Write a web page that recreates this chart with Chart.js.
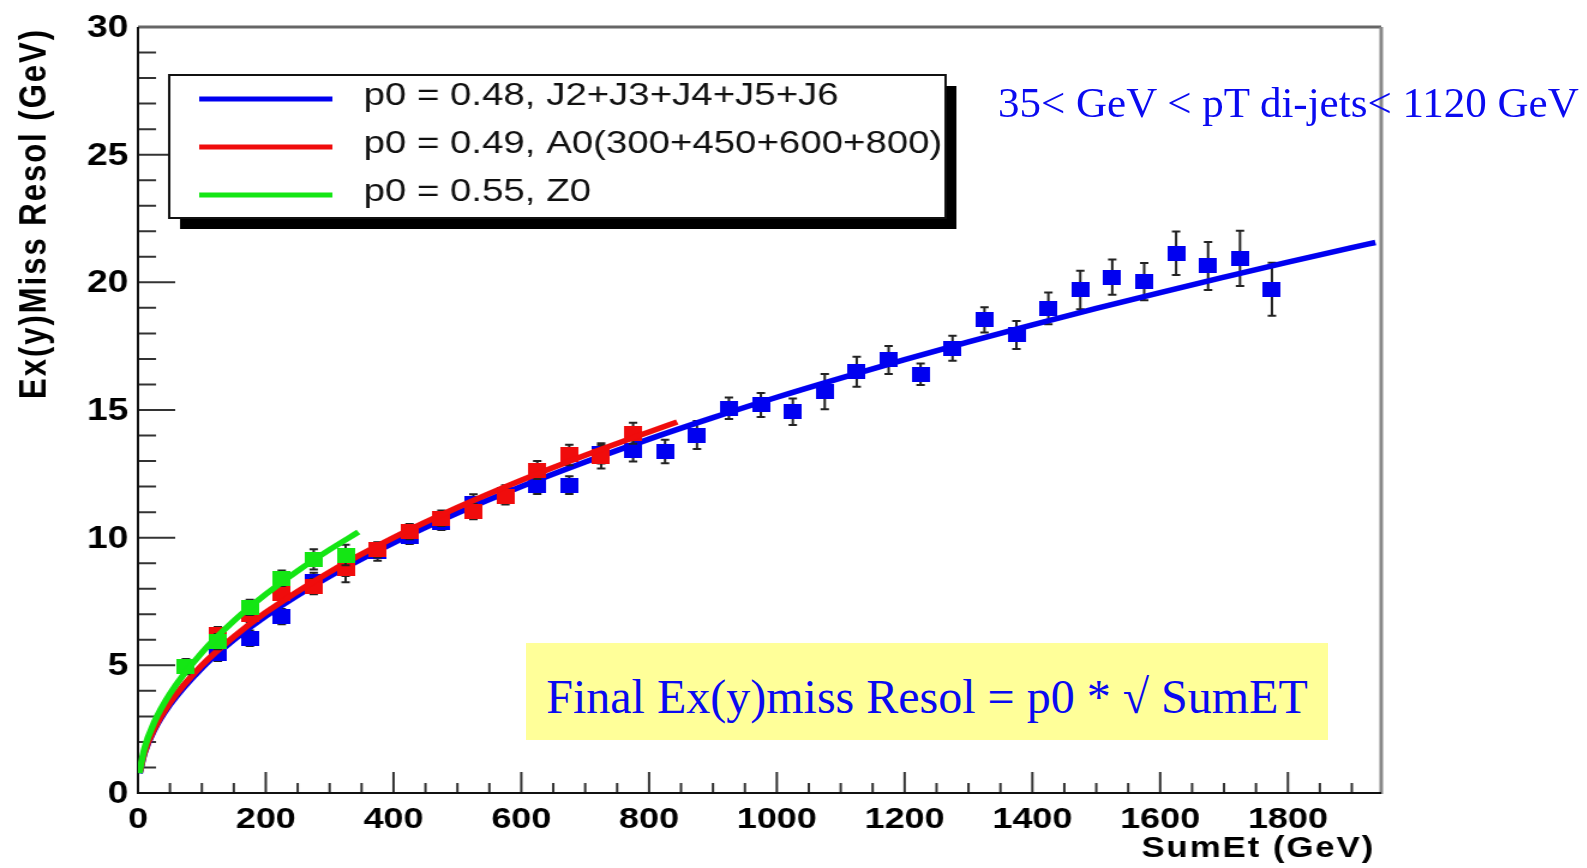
<!DOCTYPE html>
<html>
<head>
<meta charset="utf-8">
<script src="https://cdn.jsdelivr.net/npm/chart.js@4"></script>
<style>
  html, body { margin: 0; padding: 0; background: #fff; }
  body { width: 1587px; height: 868px; overflow: hidden; position: relative; }
  #wrap { position: absolute; left: 0; top: 0; width: 1323px; height: 868px; transform: scaleX(1.2); transform-origin: 0 0; }
  .note { position: absolute; left: 998px; top: 81px; font: 43px/43px "Liberation Serif", "Times New Roman", serif; color: #0a0af0; white-space: nowrap; }
  .formula { position: absolute; left: 526px; top: 643px; width: 802px; height: 97px; background: #ffff99; }
  .formula span { position: absolute; left: 0; right: 0; top: 30px; text-align: center; font: 48px/48px "Liberation Serif", "Times New Roman", serif; color: #0a0af0; white-space: nowrap; }
</style>
</head>
<body>
<div id="wrap"><canvas id="c" width="1323" height="868"></canvas></div>
<div class="note">35&lt; GeV &lt; pT di-jets&lt; 1120 GeV</div>
<div class="formula"><span>Final Ex(y)miss Resol = p0 * √ SumET</span></div>
<script>
// measured points (SumEt bins, resolution, error)
const blueX = [125, 175, 225, 275, 325, 375, 425, 475, 525, 575, 625, 675, 725, 775, 825, 875, 925, 975,
  1025, 1075, 1125, 1175, 1225, 1275, 1325, 1375, 1425, 1475, 1525, 1575, 1625, 1675, 1725, 1775];
const blueY = [5.47, 6.06, 6.91, 8.28, 8.8, 9.45, 10.05, 10.6, 11.35, 11.7, 12.06, 12.06, 13.3, 13.4, 13.37, 14.02, 15.07, 15.2,
  14.93, 15.72, 16.5, 16.96, 16.4, 17.42, 18.53, 17.94, 18.98, 19.7, 20.2, 20.03, 21.14, 20.64, 20.94, 19.73];
const blueErr = [0.3, 0.3, 0.3, 0.35, 0.55, 0.35, 0.3, 0.3, 0.35, 0.35, 0.35, 0.35, 0.4, 0.42, 0.46, 0.55, 0.42, 0.47,
  0.52, 0.69, 0.59, 0.55, 0.42, 0.49, 0.49, 0.55, 0.62, 0.75, 0.69, 0.73, 0.85, 0.94, 1.08, 1.04];

const redX = [125, 175, 225, 275, 325, 375, 425, 475, 525, 575, 625, 675, 725, 775];
const redY = [6.2, 7.0, 7.8, 8.08, 8.8, 9.52, 10.24, 10.76, 11.02, 11.6, 12.65, 13.24, 13.17, 14.09];
const redErr = [0.3, 0.3, 0.3, 0.3, 0.3, 0.3, 0.3, 0.3, 0.3, 0.3, 0.35, 0.4, 0.46, 0.41];

const greenX = [75, 125, 175, 225, 275, 325];
const greenY = [4.95, 5.93, 7.27, 8.41, 9.15, 9.32];
const greenErr = [0.3, 0.3, 0.3, 0.3, 0.4, 0.4];

// fitted curves
const blueFitX = [2.5, 10, 25, 50, 100, 150, 200, 300, 400, 500, 600, 700, 800, 900, 1000, 1100, 1200, 1300, 1400, 1500, 1600, 1700, 1800, 1900, 1937];
const blueFitY = [0.77, 1.55, 2.45, 3.46, 4.9, 6.0, 6.93, 8.49, 9.8, 10.96, 12.0, 12.96, 13.86, 14.7, 15.5, 16.25, 16.97, 17.67, 18.33, 18.98, 19.6, 20.2, 20.79, 21.36, 21.56];
const redFitX = [2.5, 10, 25, 50, 100, 150, 200, 300, 400, 500, 600, 700, 800, 844];
const redFitY = [0.79, 1.58, 2.5, 3.54, 5.0, 6.12, 7.07, 8.66, 10.0, 11.18, 12.25, 13.23, 14.14, 14.53];
const greenFitX = [2, 10, 25, 50, 100, 150, 200, 250, 300, 345];
const greenFitY = [0.78, 1.74, 2.75, 3.89, 5.5, 6.74, 7.78, 8.7, 9.53, 10.22];

const fitLabels = ['p0 = 0.48, J2+J3+J4+J5+J6', 'p0 = 0.49, A0(300+450+600+800)', 'p0 = 0.55, Z0'];
const xTickLabels = [0, 200, 400, 600, 800, 1000, 1200, 1400, 1600, 1800];
const yTickLabels = [0, 5, 10, 15, 20, 25, 30];

const BLUE = '#0000f0', RED = '#f00c0c', GREEN = '#14e614';
const SANS = '"Liberation Sans", Arial, Helvetica, sans-serif';

function square(color) {
  const c = document.createElement('canvas');
  c.width = 15; c.height = 15;
  const g = c.getContext('2d');
  g.fillStyle = color;
  g.fillRect(0, 0, 15, 15);
  return c;
}
const pts = (xs, ys) => xs.map((x, i) => ({ x: x, y: ys[i] }));

function pointSet(label, xs, ys, errs, color, order) {
  return { label: label, data: pts(xs, ys), errors: errs, pointStyle: square(color), pointRadius: 8,
    backgroundColor: color, borderColor: color, showLine: false, order: order };
}
function fitSet(label, xs, ys, color, order) {
  return { label: label, data: pts(xs, ys), showLine: true, pointRadius: 0, borderColor: color,
    borderWidth: 5.5, cubicInterpolationMode: 'monotone', fill: false, order: order, isFit: true };
}

const errorBars = {
  id: 'errorBars',
  beforeDatasetDraw(chart, args) {
    const ds = chart.data.datasets[args.index];
    if (!ds.errors) return;
    const y = chart.scales.y, ctx = chart.ctx;
    ctx.save();
    ctx.strokeStyle = '#222';
    ctx.lineWidth = 2;
    args.meta.data.forEach((el, i) => {
      const v = ds.data[i].y, e = ds.errors[i];
      const t = y.getPixelForValue(v + e), b = y.getPixelForValue(v - e);
      ctx.beginPath();
      ctx.moveTo(el.x, t); ctx.lineTo(el.x, b);
      ctx.moveTo(el.x - 3.5, t); ctx.lineTo(el.x + 3.5, t);
      ctx.moveTo(el.x - 3.5, b); ctx.lineTo(el.x + 3.5, b);
      ctx.stroke();
    });
    ctx.restore();
  }
};

const frame = {
  id: 'frame',
  beforeDatasetsDraw(chart) {
    const { ctx, chartArea: a, scales: { x, y } } = chart;
    ctx.save();
    ctx.strokeStyle = '#333';
    ctx.lineWidth = 2;
    ctx.beginPath();
    for (let v = 0; v <= 30; v++) {
      const py = y.getPixelForValue(v);
      ctx.moveTo(a.left, py); ctx.lineTo(a.left + (v % 5 === 0 ? 31 : 15), py);
    }
    for (let v = 0; v <= x.max; v += 50) {
      const px = x.getPixelForValue(v);
      ctx.moveTo(px, a.bottom); ctx.lineTo(px, a.bottom - (v % 200 === 0 ? 21 : 10));
    }
    ctx.stroke();
    ctx.lineWidth = 3;
    ctx.strokeStyle = '#666';
    ctx.beginPath(); ctx.moveTo(a.left, a.top); ctx.lineTo(a.right, a.top); ctx.stroke();
    ctx.strokeStyle = '#888';
    ctx.beginPath(); ctx.moveTo(a.right, a.top); ctx.lineTo(a.right, a.bottom + 1); ctx.stroke();
    ctx.strokeStyle = '#111';
    ctx.lineWidth = 2;
    ctx.beginPath(); ctx.moveTo(a.left, a.top); ctx.lineTo(a.left, a.bottom); ctx.lineTo(a.right, a.bottom); ctx.stroke();
    ctx.restore();
  },
  afterDatasetsDraw(chart) {
    const ctx = chart.ctx;
    const L = 141, T = 75, R = 788, B = 218;
    ctx.save();
    ctx.fillStyle = '#000';
    ctx.fillRect(L + 9, T + 11, R - L, B - T);
    ctx.fillStyle = '#fff';
    ctx.fillRect(L, T, R - L, B - T);
    ctx.strokeStyle = '#111';
    ctx.lineWidth = 2;
    ctx.strokeRect(L, T, R - L, B - T);
    const fits = chart.data.datasets.filter(d => d.isFit);
    const rows = [99, 147, 195];
    fits.forEach((d, i) => {
      ctx.strokeStyle = d.borderColor;
      ctx.lineWidth = 5;
      ctx.beginPath(); ctx.moveTo(166, rows[i]); ctx.lineTo(277, rows[i]); ctx.stroke();
      ctx.fillStyle = '#111';
      ctx.font = '32px ' + SANS;
      ctx.textBaseline = 'alphabetic';
      ctx.fillText(d.label, 303, rows[i] + 6);
    });
    ctx.restore();
  },
  afterDraw(chart) {
    const { ctx, scales: { x, y } } = chart;
    ctx.save();
    ctx.fillStyle = '#000';
    ctx.font = 'bold 31px ' + SANS;
    ctx.textAlign = 'right';
    yTickLabels.forEach(v => ctx.fillText(String(v), 107, y.getPixelForValue(v) + 10));
    ctx.font = 'bold 30px ' + SANS;
    ctx.textAlign = 'center';
    xTickLabels.forEach(v => ctx.fillText(String(v), x.getPixelForValue(v), 828));
    ctx.font = 'bold 29px ' + SANS;
    ctx.letterSpacing = '1.6px';
    ctx.textAlign = 'right';
    ctx.fillText('SumEt (GeV)', 1146, 857);
    ctx.font = 'bold 31px ' + SANS;
    ctx.letterSpacing = '2px';
    ctx.translate(37.5, 28);
    ctx.rotate(-Math.PI / 2);
    ctx.fillText('Ex(y)Miss Resol (GeV)', 0, 0);
    ctx.restore();
  }
};

new Chart(document.getElementById('c'), {
  type: 'scatter',
  data: {
    datasets: [
      pointSet('J2+J3+J4+J5+J6', blueX, blueY, blueErr, BLUE, 6),
      fitSet(fitLabels[0], blueFitX, blueFitY, BLUE, 5),
      pointSet('A0', redX, redY, redErr, RED, 4),
      fitSet(fitLabels[1], redFitX, redFitY, RED, 3),
      pointSet('Z0', greenX, greenY, greenErr, GREEN, 2),
      fitSet(fitLabels[2], greenFitX, greenFitY, GREEN, 1)
    ]
  },
  options: {
    responsive: false,
    animation: false,
    devicePixelRatio: 1,
    layout: { padding: { left: 115, right: 172, top: 27, bottom: 75 } },
    plugins: { legend: { display: false }, tooltip: { enabled: false } },
    scales: {
      x: { type: 'linear', min: 0, max: 1946, display: false },
      y: { type: 'linear', min: 0, max: 30, display: false }
    }
  },
  plugins: [errorBars, frame]
});
</script>
</body>
</html>
